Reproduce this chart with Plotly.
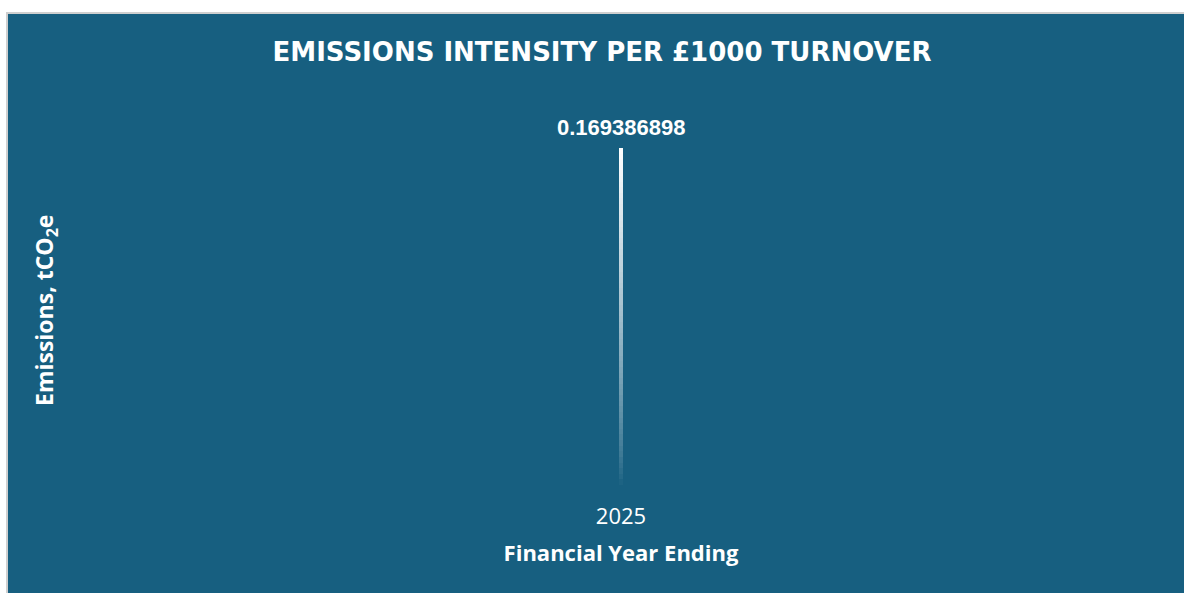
import plotly.graph_objects as go

categories = ["2025"]
values = [0.169386898]
value_labels = ["0.169386898"]

BG = "#175F80"
N = 60  # gradient slices for the single thin bar

L, R, T, B = 80, 22, 87, 108
W, H = 1184, 593
pw, ph = W - L - R, H - T - B

fig = go.Figure()
annotations = []
for idx, (cat, val, lab) in enumerate(zip(categories, values, value_labels)):
    for i in range(N):
        alpha = ((i + 0.5) / N) ** 0.75  # bottom transparent -> top white
        fig.add_trace(go.Bar(
            x=[cat], y=[val / N], width=0.0028,
            marker=dict(color=f"rgba(255,255,255,{alpha:.3f})", line=dict(width=0)),
            hoverinfo="skip", showlegend=False,
        ))
    annotations.append(dict(
        x=idx, y=val, xref="x", yref="y", text=f"<b>{lab}</b>", showarrow=False,
        yanchor="bottom", yshift=6,
        font=dict(family="Liberation Sans", size=22, color="white"),
    ))

annotations.append(dict(
    text="<b>Emissions, tCO<sub>2</sub>e</b>", textangle=-90, showarrow=False,
    xref="paper", yref="paper", x=(45 - L) / pw, y=(H - B - 311) / ph,
    xanchor="center", yanchor="middle",
    font=dict(family="Open Sans", size=23, color="white"),
))

fig.add_shape(type="rect", xref="paper", yref="paper", layer="below",
              x0=(7 - L) / pw, x1=(W + 5 - L) / pw,
              y0=-(B + 5) / ph, y1=1 + (T - 13) / ph,
              fillcolor=BG, line=dict(color="#cfcfcf", width=2))

fig.update_layout(
    width=W, height=H,
    margin=dict(l=L, r=R, t=T, b=B),
    barmode="stack", bargap=0,
    paper_bgcolor="white", plot_bgcolor="rgba(0,0,0,0)",
    annotations=annotations,
    title=dict(text="EMISSIONS INTENSITY PER £1000 TURNOVER",
               x=602 / W, xanchor="center", y=1 - 52 / H, yanchor="middle",
               font=dict(family="DejaVu Sans", size=26, color="white", weight=700)),
    xaxis=dict(type="category", range=[-0.5, 0.5], showgrid=False, zeroline=False,
               showline=False, ticks="", ticklabelstandoff=16,
               tickfont=dict(family="Open Sans", size=22, color="white"),
               title=dict(text="Financial Year Ending", standoff=16,
                          font=dict(family="Open Sans", size=22, color="white", weight=700))),
    yaxis=dict(range=[0, 0.2], showgrid=False, zeroline=False, showline=False,
               showticklabels=False, ticks=""),
)

fig.write_html("out.html", config={"displayModeBar": False},
               post_script="document.body.style.margin='0';")
